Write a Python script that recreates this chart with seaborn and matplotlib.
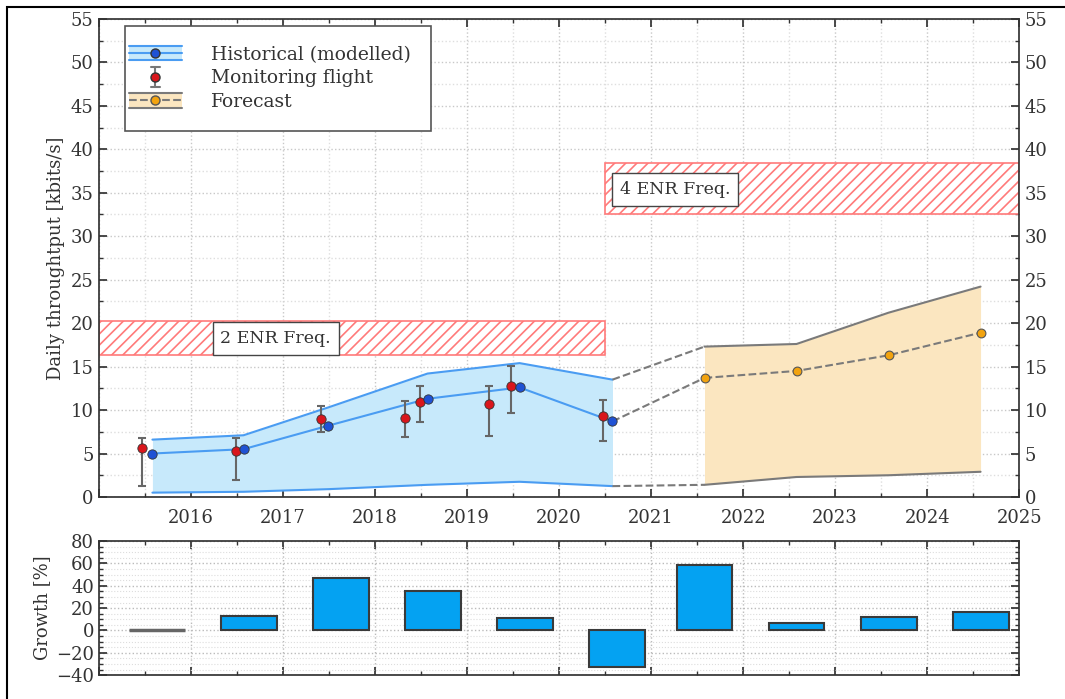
import numpy as np
import pandas as pd
import seaborn as sns
import matplotlib.pyplot as plt
from matplotlib.patches import Patch, Rectangle
from matplotlib.lines import Line2D
from matplotlib.legend_handler import HandlerBase
from matplotlib.ticker import MultipleLocator, FuncFormatter

# historical (modelled)
hist_x = [2015.58, 2016.57, 2017.49, 2018.57, 2019.57, 2020.58]
hist_mid = [5.0, 5.5, 8.2, 11.3, 12.6, 8.7]
hist_hi = [6.6, 7.1, 10.3, 14.2, 15.4, 13.5]
hist_lo = [0.5, 0.6, 0.9, 1.4, 1.75, 1.25]

# monitoring flights
flight_x = [2015.47, 2016.49, 2017.41, 2018.33, 2018.49, 2019.24, 2019.48, 2020.48]
flight_y = [5.6, 5.3, 9.0, 9.1, 10.9, 10.7, 12.8, 9.3]
flight_lo = [1.3, 2.0, 7.5, 6.9, 8.6, 7.0, 9.7, 6.4]
flight_hi = [6.8, 6.8, 10.5, 11.0, 12.8, 12.8, 15.1, 11.1]

# forecast
fc_x = [2021.58, 2022.58, 2023.58, 2024.58]
fc_mid = [13.7, 14.5, 16.3, 18.9]
fc_hi = [17.3, 17.6, 21.2, 24.2]
fc_lo = [1.4, 2.3, 2.5, 2.9]

# growth per year
growth_x = [2015.63, 2016.63, 2017.63, 2018.63, 2019.63, 2020.63, 2021.58, 2022.58, 2023.58, 2024.58]
growth = [0, 13, 47, 35.5, 11.5, -32.5, 58.5, 6.5, 12.5, 16.5]

# capacity bands (x0, x1, y0, y1)
enr2 = (2015.0, 2020.5, 16.3, 20.2)
enr4 = (2020.5, 2025.0, 32.5, 38.4)

sns.set_theme(style='ticks')
plt.rcParams['font.family'] = ['DejaVu Serif']
plt.rcParams['hatch.color'] = '#ff7a7a'
plt.rcParams['hatch.linewidth'] = 1.2

blue_fill = '#c7e9fb'
blue_line = '#4a9cf2'
gray_line = '#7a7a7a'
orange_fill = '#fbe6c0'
txt = '#333333'
SHIFT = 11  # px, draws legend handles a bit further left


class BandHandler(HandlerBase):
    """band with edge lines, a centre line and a marker"""
    def __init__(self, fill, edge, mid_ls, mfc, mec):
        super().__init__()
        self.sty = (fill, edge, mid_ls, mfc, mec)

    def create_artists(self, legend, orig, xd, yd, w, h, fontsize, trans):
        fill, edge, mid_ls, mfc, mec = self.sty
        x0, y0 = -xd - SHIFT, -yd
        arts = [Rectangle((x0, y0), w, h, facecolor=fill, edgecolor='none', transform=trans)]
        for yy in (y0, y0 + h):
            arts.append(Line2D([x0, x0 + w], [yy, yy], color=edge, lw=1.5, transform=trans))
        arts.append(Line2D([x0, x0 + w], [y0 + h / 2] * 2, color=edge, lw=1.5, ls=mid_ls,
                           transform=trans))
        arts.append(Line2D([x0 + w / 2], [y0 + h / 2], ls='none', marker='o', markersize=6.5,
                           markerfacecolor=mfc, markeredgecolor=mec, transform=trans))
        return arts


class FlightHandler(HandlerBase):
    def create_artists(self, legend, orig, xd, yd, w, h, fontsize, trans):
        x0, y0 = -xd - SHIFT, -yd
        xc, yc = x0 + w / 2, y0 + h / 2
        arts = [Line2D([xc, xc], [y0 - 2, y0 + h + 2], color='#777777', lw=1.5, transform=trans)]
        for yy in (y0 - 2, y0 + h + 2):
            arts.append(Line2D([xc - 3, xc + 3], [yy, yy], color='#777777', lw=1.5, transform=trans))
        arts.append(Line2D([xc], [yc], ls='none', marker='o', markersize=6.5,
                           markerfacecolor='#d9161c', markeredgecolor='#333333', transform=trans))
        return arts


fig = plt.figure(figsize=(10.65, 6.99), dpi=100)
ax = fig.add_axes([0.093, 0.289, 0.864, 0.684])
ax2 = fig.add_axes([0.093, 0.034, 0.864, 0.192])

fig.patches.append(Rectangle((0.0066, -0.05), 1.1, 1.04, transform=fig.transFigure,
                             fill=False, edgecolor='black', lw=1.5))

# capacity hatched boxes
for (x0, x1, y0, y1) in [enr2, enr4]:
    ax.add_patch(Rectangle((x0, y0), x1 - x0, y1 - y0, facecolor='white',
                           edgecolor='#ff7a7a', hatch='///', lw=1.2, zorder=1))
box = dict(boxstyle='square,pad=0.45', facecolor='white', edgecolor='#444444', lw=1)
ax.text(2016.92, 18.25, '2 ENR Freq.', fontsize=12.5, color=txt, ha='center', va='center',
        bbox=box, zorder=3)
ax.text(2021.26, 35.4, '4 ENR Freq.', fontsize=12.5, color=txt, ha='center', va='center',
        bbox=box, zorder=3)

# historical band
ax.fill_between(hist_x, hist_lo, hist_hi, color=blue_fill, lw=0, zorder=2)
sns.lineplot(x=hist_x, y=hist_hi, ax=ax, color=blue_line, lw=1.5, zorder=3)
sns.lineplot(x=hist_x, y=hist_lo, ax=ax, color=blue_line, lw=1.5, zorder=3)
sns.lineplot(x=hist_x, y=hist_mid, ax=ax, color=blue_line, lw=1.5, zorder=3)

# forecast band
ax.fill_between(fc_x, fc_lo, fc_hi, color=orange_fill, lw=0, zorder=2)
sns.lineplot(x=fc_x, y=fc_hi, ax=ax, color=gray_line, lw=1.5, zorder=3)
sns.lineplot(x=fc_x, y=fc_lo, ax=ax, color=gray_line, lw=1.5, zorder=3)
sns.lineplot(x=fc_x, y=fc_mid, ax=ax, color=gray_line, lw=1.5, ls='--', zorder=3)

# dashed connectors
for a, b in [(hist_hi[-1], fc_hi[0]), (hist_mid[-1], fc_mid[0]), (hist_lo[-1], fc_lo[0])]:
    ax.plot([hist_x[-1], fc_x[0]], [a, b], color=gray_line, lw=1.5, ls='--', zorder=3)

# monitoring flights
yerr = [np.array(flight_y) - np.array(flight_lo), np.array(flight_hi) - np.array(flight_y)]
ax.errorbar(flight_x, flight_y, yerr=yerr, fmt='none', ecolor='#666666',
            elinewidth=1.5, capsize=3, capthick=1.5, zorder=4)
sns.scatterplot(x=flight_x, y=flight_y, ax=ax, color='#d9161c', edgecolor='#333333',
                s=45, linewidth=0.6, zorder=5)
sns.scatterplot(x=hist_x, y=hist_mid, ax=ax, color='#1f52d4', edgecolor='#333333',
                s=45, linewidth=0.6, zorder=5)
sns.scatterplot(x=fc_x, y=fc_mid, ax=ax, color='#f2a30f', edgecolor='#555555',
                s=40, linewidth=0.8, zorder=5)

ax.set_xlim(2015, 2025)
ax.set_ylim(0, 55)
ax.xaxis.set_major_locator(MultipleLocator(1))
ax.xaxis.set_minor_locator(MultipleLocator(0.5))
ax.xaxis.set_major_formatter(FuncFormatter(lambda v, p: '' if v < 2015.5 else f'{v:.0f}'))
ax.yaxis.set_major_locator(MultipleLocator(5))
ax.yaxis.set_minor_locator(MultipleLocator(2.5))
ax.grid(True, which='major', color='#c8c8c8', ls=':', lw=1)
ax.grid(True, which='minor', color='#dedede', ls=':', lw=1)
ax.set_axisbelow(True)
ax.tick_params(which='both', direction='in', top=True, right=True, labelright=True,
               labelsize=13, colors=txt, length=6)
ax.tick_params(which='minor', length=3)
ax.tick_params(axis='x', pad=9)
ax.tick_params(axis='y', pad=4)
for s in ax.spines.values():
    s.set_color(txt)
ax.set_ylabel('Daily throughtput [kbits/s]', fontsize=13, color=txt)
ax.set_xlabel('')

# legend with custom handles
p_hist, p_fl, p_fc = Patch(), Line2D([], []), Rectangle((0, 0), 1, 1)
leg = ax.legend([p_hist, p_fl, p_fc],
                ['Historical (modelled)', 'Monitoring flight', 'Forecast'],
                handler_map={p_hist: BandHandler(blue_fill, blue_line, '-', '#1f52d4', '#333333'),
                             p_fl: FlightHandler(),
                             p_fc: BandHandler(orange_fill, gray_line, '--', '#f2a30f', '#555555')},
                loc='upper left', bbox_to_anchor=(0.028, 0.985), fontsize=13.5,
                frameon=True, fancybox=False, edgecolor='#555555', framealpha=1,
                borderpad=1.05, labelspacing=0.3, handlelength=2.8, handleheight=0.8,
                handletextpad=0.75, borderaxespad=0)
leg.get_frame().set_linewidth(1.2)
for t in leg.get_texts():
    t.set_color(txt)

# growth bars
gdf = pd.DataFrame({'x': growth_x, 'g': growth})
sns.barplot(data=gdf, x='x', y='g', ax=ax2, native_scale=True, width=0.64,
            color='#04a2f2', saturation=1, edgecolor='#3a3a3a', linewidth=1.5, zorder=3)
ax2.patches[0].set_edgecolor('#666666')
ax2.patches[0].set_linewidth(2.5)
ax2.set_xlim(2015, 2025)
ax2.set_ylim(-40, 80)
ax2.xaxis.set_major_locator(MultipleLocator(1))
ax2.xaxis.set_minor_locator(MultipleLocator(0.5))
ax2.yaxis.set_major_locator(MultipleLocator(20))
ax2.yaxis.set_minor_locator(MultipleLocator(5))
ax2.grid(True, which='major', color='#bbbbbb', ls=':', lw=1)
ax2.grid(True, which='minor', axis='y', color='#dddddd', ls=':', lw=0.8)
ax2.set_axisbelow(True)
ax2.tick_params(which='both', direction='in', top=True, right=True, labelbottom=False,
                labelsize=13, colors=txt, length=6)
ax2.tick_params(which='minor', length=3)
for s in ax2.spines.values():
    s.set_color(txt)
ax2.set_ylabel('Growth [%]', fontsize=13, color=txt)
ax2.set_xlabel('')

fig.savefig('out.png', dpi=100)
